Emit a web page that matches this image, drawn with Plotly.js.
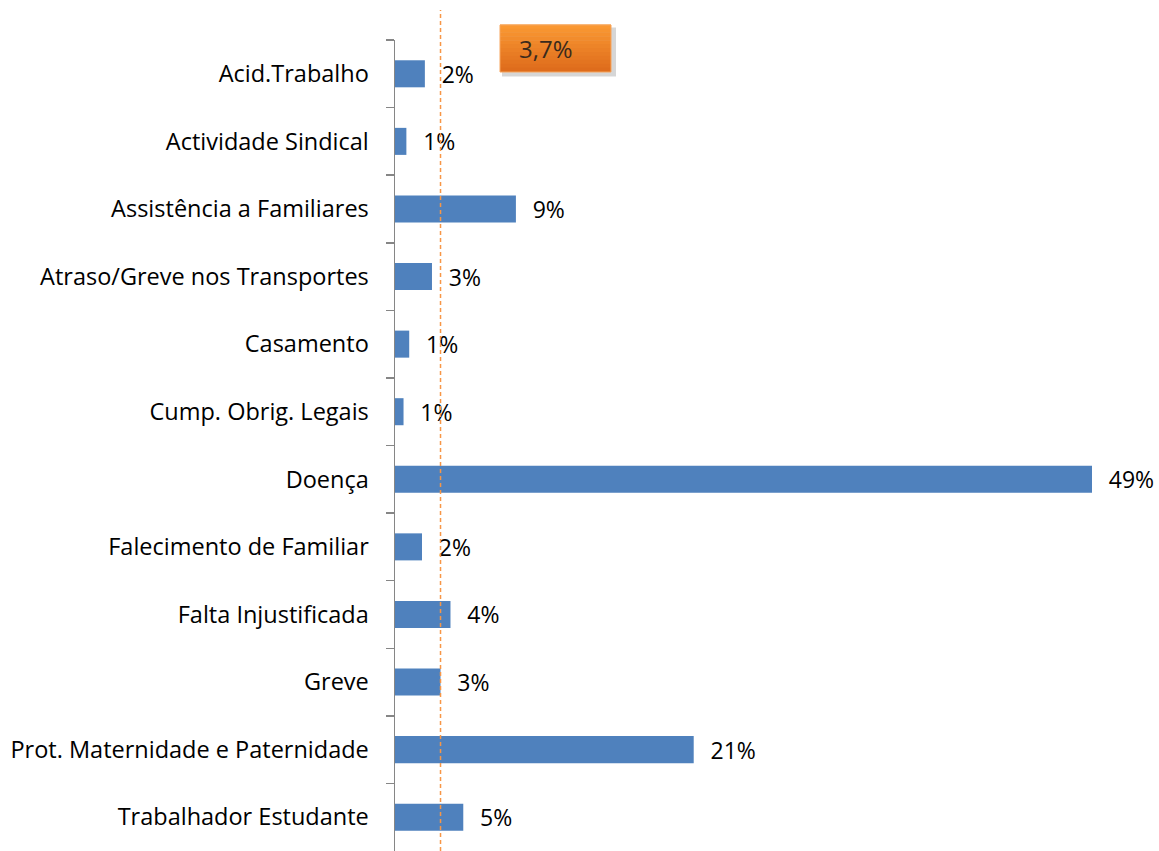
<!DOCTYPE html>
<html>
<head>
<meta charset="utf-8">
<script src="https://cdn.plot.ly/plotly-3.0.1.min.js"></script>
<style>html,body{margin:0;padding:0;background:#fff;}#chart{width:1159px;height:851px;}</style>
</head>
<body>
<div id="chart"></div>
<script>
const categories = [
  "Acid.Trabalho",
  "Actividade Sindical",
  "Assistência a Familiares",
  "Atraso/Greve nos Transportes",
  "Casamento",
  "Cump. Obrig. Legais",
  "Doença",
  "Falecimento de Familiar",
  "Falta Injustificada",
  "Greve",
  "Prot. Maternidade e Paternidade",
  "Trabalhador Estudante"
];
const percentages = [2.1, 0.8, 8.5, 2.6, 1.0, 0.6, 49.0, 1.9, 3.9, 3.2, 21.0, 4.8];
const referenceValue = 3.2;      // dashed reference line position
const referenceLabel = "3,7%";

const FONT = "'Open Sans', 'DejaVu Sans', sans-serif";
const plotW = 1159 - 395;
const xMax = 49 * plotW / 697;
const labelX = (555 - 395) * xMax / plotW;
const boxY = (851 - 48.5) / 811;

const trace = {
  type: "bar",
  orientation: "h",
  y: categories,
  x: percentages,
  marker: {color: "#4F81BD"},
  texttemplate: "\u2002\u200a%{x:.0f}%",
  textposition: "outside",
  constraintext: "none",
  cliponaxis: false,
  textfont: {family: FONT, size: 23, color: "#000"},
  hoverinfo: "skip"
};

const shapes = [];
// dashed reference line
shapes.push({
  type: "line", xref: "x", yref: "paper",
  x0: referenceValue, x1: referenceValue, y0: 0, y1: 841/811,
  line: {color: "#F79646", width: 1.5, dash: "4px,3px"}
});
// shadow of label box
shapes.push({
  type: "rect", xref: "x", yref: "paper",
  xsizemode: "pixel", ysizemode: "pixel",
  xanchor: labelX, yanchor: boxY,
  x0: -53, x1: 61, y0: -28, y1: 21,
  fillcolor: "rgba(0,0,0,0.16)", line: {width: 0}, layer: "below"
});
// gradient box stripes
const topC = [250, 152, 50], botC = [222, 108, 28];
const n = 12, h = 47;
for (let i = 0; i < n; i++) {
  const t = i / (n - 1);
  const c = topC.map((v, k) => Math.round(v + (botC[k] - v) * t));
  shapes.push({
    type: "rect", xref: "x", yref: "paper",
    xsizemode: "pixel", ysizemode: "pixel",
    xanchor: labelX, yanchor: boxY,
    x0: -55, x1: 56,
    y0: h/2 - (i + 1) * h / n, y1: h/2 - i * h / n + 0.5,
    fillcolor: `rgb(${c[0]},${c[1]},${c[2]})`, line: {width: 0}
  });
}
shapes.push({
  type: "rect", xref: "x", yref: "paper",
  xsizemode: "pixel", ysizemode: "pixel",
  xanchor: labelX, yanchor: boxY,
  x0: -55, x1: 56, y0: -h/2, y1: h/2,
  fillcolor: "rgba(0,0,0,0)", line: {color: "#F6A45C", width: 1}
});

const layout = {
  width: 1159, height: 851,
  margin: {l: 395, r: 0, t: 40, b: 0},
  paper_bgcolor: "#fff", plot_bgcolor: "#fff",
  showlegend: false,
  bargap: 0.6,
  font: {family: FONT, size: 23.5, color: "#000"},
  xaxis: {range: [0, xMax], showticklabels: false, showgrid: false, zeroline: false, showline: false, fixedrange: true},
  yaxis: {
    type: "category", autorange: "reversed",
    showline: true, linecolor: "#868686", linewidth: 1.5,
    ticks: "outside", tickson: "boundaries", ticklen: 8, tickcolor: "#868686", tickwidth: 1.5,
    ticklabelstandoff: 20,
    showgrid: false, zeroline: false,
    tickfont: {family: FONT, size: 23.5, color: "#000"}
  },
  shapes: shapes,
  annotations: [{
    xref: "x", yref: "paper", x: labelX, y: boxY,
    xshift: -9,
    text: referenceLabel, showarrow: false,
    font: {family: FONT, size: 24, color: "#3A2A1C"},
    xanchor: "center", yanchor: "middle"
  }]
};

Plotly.newPlot("chart", [trace], layout, {displayModeBar: false, staticPlot: true});
</script>
</body>
</html>
